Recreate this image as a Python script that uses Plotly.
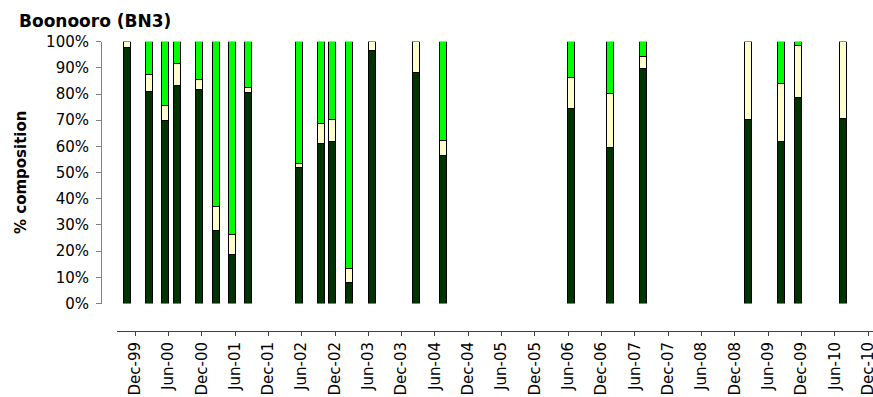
import plotly.graph_objects as go

W, H = 873, 397

# Sampling dates (bars)
dates = ["1999-10-17", "2000-02-16", "2000-05-15", "2000-07-18", "2000-11-16",
         "2001-02-15", "2001-05-17", "2001-08-13", "2002-05-18", "2002-09-14",
         "2002-11-17", "2003-02-16", "2003-06-21", "2004-02-17", "2004-07-16",
         "2006-06-18", "2007-01-14", "2007-07-17", "2009-02-11", "2009-08-10",
         "2009-11-13", "2010-07-14"]

# % composition for each group (stacked bottom to top)
dark_green = [97.8, 81.0, 69.8, 83.2, 81.6, 27.8, 18.6, 80.6, 52.0, 61.2,
              61.9, 7.9, 96.6, 88.2, 56.4, 74.3, 59.5, 89.8, 70.4, 61.8,
              78.5, 70.6]
cream = [2.2, 6.3, 5.7, 8.5, 3.8, 9.3, 7.7, 2.0, 1.6, 7.4,
         8.2, 5.3, 3.4, 11.8, 5.9, 12.0, 20.6, 4.7, 29.6, 22.1,
         20.2, 29.4]
bright_green = [round(100 - d - c, 1) for d, c in zip(dark_green, cream)]

tick_vals = ["1999-12-01", "2000-06-01", "2000-12-01", "2001-06-01", "2001-12-01",
             "2002-06-01", "2002-12-01", "2003-06-01", "2003-12-01", "2004-06-01",
             "2004-12-01", "2005-06-01", "2005-12-01", "2006-06-01", "2006-12-01",
             "2007-06-01", "2007-12-01", "2008-06-01", "2008-12-01", "2009-06-01",
             "2009-12-01", "2010-06-01", "2010-12-01"]
tick_text = ["Dec-99", "Jun-00", "Dec-00", "Jun-01", "Dec-01", "Jun-02", "Dec-02",
             "Jun-03", "Dec-03", "Jun-04", "Dec-04", "Jun-05", "Dec-05", "Jun-06",
             "Dec-06", "Jun-07", "Dec-07", "Jun-08", "Dec-08", "Jun-09", "Dec-09",
             "Jun-10", "Dec-10"]

bar_w_ms = 38 * 86400000

fig = go.Figure()
for vals, col in [(dark_green, "#003300"), (cream, "#FFFFCC"), (bright_green, "#00FF00")]:
    fig.add_trace(go.Bar(
        x=dates, y=vals, width=[bar_w_ms] * len(dates),
        marker=dict(color=col, line=dict(color="#000000", width=1)),
        showlegend=False, hoverinfo="skip"))

FONT = "DejaVu Sans"

fig.update_layout(
    width=W, height=H,
    margin=dict(l=0, r=0, t=0, b=0, autoexpand=False),
    barmode="stack",
    paper_bgcolor="white", plot_bgcolor="white",
    font=dict(family=FONT, size=15, color="black"),
    xaxis=dict(
        type="date",
        domain=[117 / W, 1],
        range=["1999-08-24", "2010-12-28"],
        anchor="free", position=(H - 331) / H, automargin=False,
        tickmode="array", tickvals=tick_vals, ticktext=tick_text,
        tickangle=-90, ticks="outside", ticklen=4, tickcolor="#404040",
        showline=True, linecolor="#404040", linewidth=1,
        showgrid=False, zeroline=False, ticklabeloverflow="allow",
        tickfont=dict(family=FONT, size=15, color="black"),
    ),
    yaxis=dict(
        domain=[(H - 303.5) / H, (H - 41.7) / H],
        range=[0, 100],
        anchor="free", position=101 / W, automargin=False,
        tickmode="linear", tick0=0, dtick=10, ticksuffix="%",
        ticks="outside", ticklen=5, tickcolor="#808080",
        showline=True, linecolor="#808080", linewidth=1,
        showgrid=False, zeroline=False, ticklabelstandoff=4,
        tickfont=dict(family=FONT, size=15, color="black"),
    ),
    annotations=[
        dict(text="<b>Boonooro (BN3)</b>", xref="paper", yref="paper",
             x=17 / W, y=(H - 21) / H, xanchor="left", yanchor="middle",
             showarrow=False, font=dict(family=FONT, size=17, color="black")),
        dict(text="<b>% composition</b>", xref="paper", yref="paper",
             x=21 / W, y=(H - 172) / H, xanchor="center", yanchor="middle",
             textangle=-90, showarrow=False,
             font=dict(family=FONT, size=15, color="black")),
    ],
)

fig.write_html("out.html")
